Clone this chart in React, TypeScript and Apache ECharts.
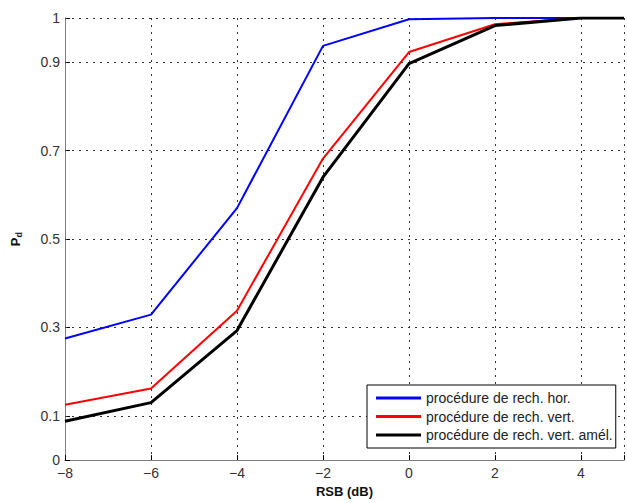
import React, { useEffect, useRef } from "react";
import * as echarts from "echarts";

const xValues = [-8, -6, -4, -2, 0, 2, 4, 5];
const seriesNames = [
  "procédure de rech. hor.",
  "procédure de rech. vert.",
  "procédure de rech. vert. amél.",
];
const horValues = [0.275, 0.329, 0.57, 0.937, 0.997, 1.0, 1.0, 1.0];
const vertValues = [0.125, 0.162, 0.338, 0.682, 0.923, 0.986, 1.0, 1.0];
const amelValues = [0.088, 0.13, 0.293, 0.64, 0.897, 0.983, 1.0, 1.0];
const yTickValues = [0, 0.1, 0.3, 0.5, 0.7, 0.9, 1];
const yGridValues = [0.1, 0.3, 0.5, 0.7, 0.9, 1];

export default function App() {
  const ref = useRef<HTMLDivElement>(null);
  useEffect(() => {
    if (!ref.current) return;
    const chart = echarts.init(ref.current, undefined, { renderer: "svg" });
    const font = "'Liberation Sans', Arial, sans-serif";
    const toPairs = (vals: number[]) => xValues.map((x, i) => [x, vals[i]]);
    const fmt = (v: number) => String(v).replace("-", "\u2212");
    chart.setOption({
      animation: false,
      backgroundColor: "#ffffff",
      textStyle: { fontFamily: font },
      grid: { left: 65, top: 18, bottom: 41, right: -4 },
      legend: {
        data: seriesNames,
        orient: "vertical",
        left: 367,
        top: 385,
        itemWidth: 45,
        itemHeight: 3,
        itemGap: 4.5,
        icon: "rect",
        padding: [6, 3, 6, 9],
        z: 10,
        backgroundColor: "#ffffff",
        borderColor: "#000000",
        borderWidth: 1,
        borderRadius: 0,
        textStyle: { fontFamily: font, fontSize: 14, color: "#222" },
      },
      xAxis: {
        type: "value",
        min: -8,
        max: 5,
        interval: 2,
        name: "RSB (dB)",
        nameLocation: "middle",
        nameGap: 24,
        nameTextStyle: { fontFamily: font, fontSize: 13, fontWeight: "bold", color: "#111" },
        axisLine: { onZero: false, lineStyle: { color: "#808080", width: 1 } },
        axisTick: { inside: true, length: 5, lineStyle: { color: "#000" } },
        axisLabel: {
          fontFamily: font,
          fontSize: 14,
          color: "#333",
          margin: 6,
          formatter: (v: number) => (v === 5 ? "" : fmt(v)),
        },
        splitLine: { show: true, lineStyle: { color: "#333", type: [2, 5], width: 1 } },
      },
      yAxis: {
        type: "value",
        min: 0,
        max: 1,
        interval: 0.1,
        name: "{p|P}{d|d}",
        nameLocation: "middle",
        nameGap: 42,
        nameRotate: 90,
        nameTextStyle: {
          rich: {
            p: { fontFamily: font, fontSize: 13, fontWeight: "bold", color: "#111" },
            d: { fontFamily: font, fontSize: 9, fontWeight: "bold", color: "#111", verticalAlign: "bottom", padding: [6, 0, 0, 0] },
          },
        },
        axisLine: { show: true, onZero: false, lineStyle: { color: "#808080", width: 1 } },
        axisTick: { show: true, inside: true, length: 5, customValues: yTickValues, lineStyle: { color: "#000" } },
        axisLabel: {
          fontFamily: font,
          fontSize: 14,
          color: "#333",
          margin: 5,
          customValues: yTickValues,
          formatter: (v: number) => String(Math.round(v * 10) / 10),
        },
        splitLine: { show: false },
      },
      series: [
        {
          name: "grid",
          type: "line",
          data: [],
          z: 1,
          silent: true,
          markLine: {
            silent: true,
            symbol: "none",
            animation: false,
            z: 1,
            label: { show: false },
            lineStyle: { color: "#333", type: [2, 5], width: 1 },
            data: yGridValues.map((v) => ({ yAxis: v })),
          },
        },
        {
          name: seriesNames[0],
          type: "line",
          data: toPairs(horValues),
          showSymbol: false,
          symbol: "none",
          z: 3,
          itemStyle: { color: "#0000ff" },
          lineStyle: { color: "#0000ff", width: 2 },
        },
        {
          name: seriesNames[1],
          type: "line",
          data: toPairs(vertValues),
          showSymbol: false,
          symbol: "none",
          z: 3,
          itemStyle: { color: "#ff0000" },
          lineStyle: { color: "#ff0000", width: 2 },
        },
        {
          name: seriesNames[2],
          type: "line",
          data: toPairs(amelValues),
          showSymbol: false,
          symbol: "none",
          z: 3,
          itemStyle: { color: "#000000" },
          lineStyle: { color: "#000000", width: 3 },
        },
      ],
    });
    return () => chart.dispose();
  }, []);
  return (
    <div
      ref={ref}
      style={{ position: "fixed", left: 0, top: 0, width: 627, height: 503, background: "#fff" }}
    />
  );
}
